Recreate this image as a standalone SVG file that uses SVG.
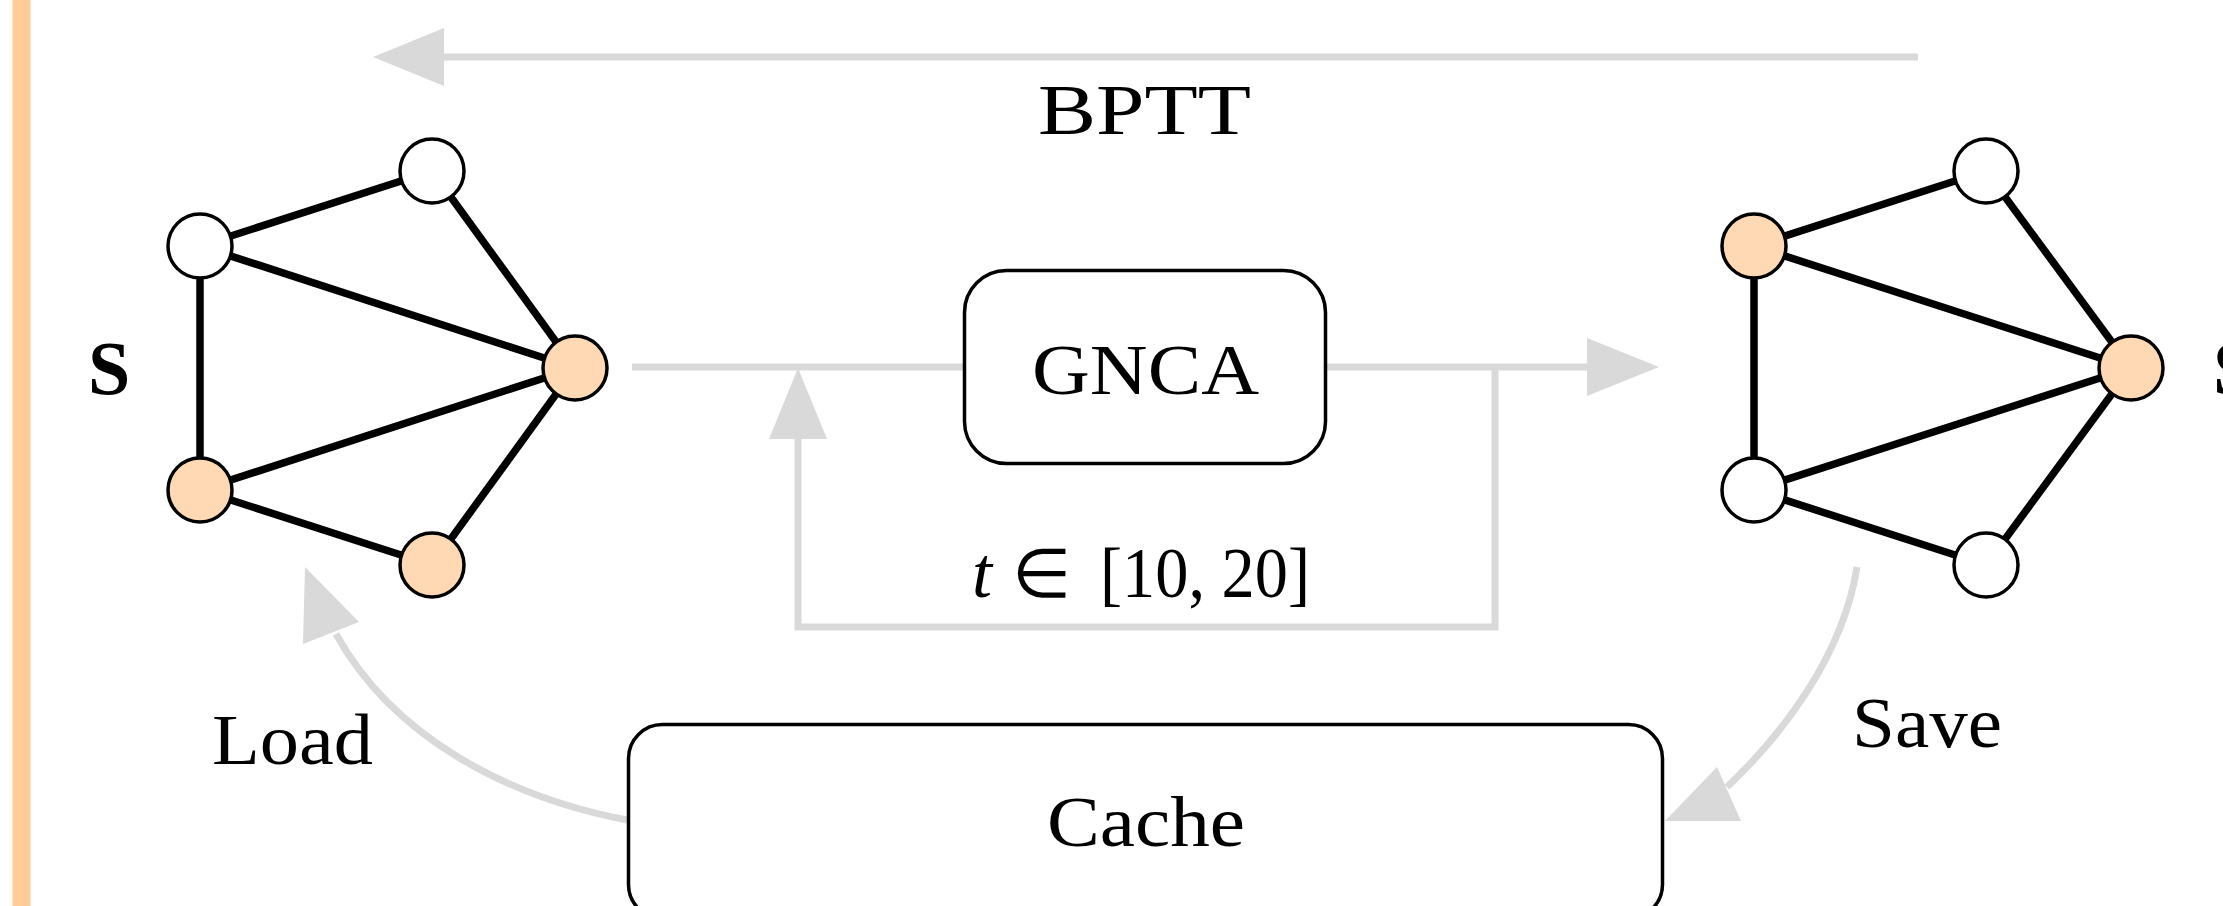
<svg xmlns="http://www.w3.org/2000/svg" width="2223" height="906" viewBox="0 0 2223 906">
  <style>
    .flow { fill: none; stroke: #d9d9d9; stroke-width: 7; }
    .head { fill: #d9d9d9; stroke: none; }
    .edge { stroke: #000; stroke-width: 7.5; stroke-linecap: butt; }
    .vert { stroke: #000; stroke-width: 3.5; }
    .off { fill: #ffffff; }
    .on { fill: #ffd9b3; }
    .box { fill: #ffffff; stroke: #000; stroke-width: 3.5; }
    .lbl { font-family: "Liberation Serif", "DejaVu Serif", serif; font-size: 72px; fill: #000; }
    .math { font-family: "DejaVu Sans", sans-serif; font-weight: 200; font-size: 68px; fill: #000; }
    .sym { font-family: "Liberation Serif", "DejaVu Serif", serif; font-size: 76px; font-weight: bold; fill: #000; }
  </style>

  <rect width="2223" height="906" fill="#ffffff"/>

  <!-- side bar -->
  <rect id="sidebar" x="12.5" y="0" width="18" height="906" fill="#ffcc99"/>

  <!-- connectors -->
  <g id="connectors">
    <!-- BPTT: backward pass along the top -->
    <line class="flow" x1="1918" y1="57" x2="440" y2="57"/>
    <polygon class="head" points="373,57 444,28 444,86"/>

    <!-- S to GNCA -->
    <line class="flow" x1="632" y1="367" x2="964" y2="367"/>
    <!-- GNCA to S' -->
    <line class="flow" x1="1327" y1="367" x2="1590" y2="367"/>
    <polygon class="head" points="1659,367 1587,338 1587,396"/>

    <!-- recurrence loop -->
    <polyline class="flow" points="1495,367 1495,627 798,627 798,436"/>
    <polygon class="head" points="798,368 769,439 827,439"/>

    <!-- Save: S' into cache -->
    <path class="flow" d="M1857,567 C1843,656 1782,735 1727,787"/>
    <polygon class="head" points="1665,821 1717,767 1741,821"/>

    <!-- Load: cache back to S -->
    <path class="flow" d="M627,820 C507,797 393,737 336,634"/>
    <polygon class="head" points="305,567 303,644 359,622"/>
  </g>

  <!-- input graph S -->
  <g id="graph-in">
    <g id="graph-in-edges">
      <line class="edge" x1="200" y1="246" x2="432" y2="171"/>
      <line class="edge" x1="200" y1="246" x2="575" y2="368"/>
      <line class="edge" x1="200" y1="246" x2="200" y2="490"/>
      <line class="edge" x1="200" y1="490" x2="575" y2="368"/>
      <line class="edge" x1="200" y1="490" x2="432" y2="565"/>
      <line class="edge" x1="432" y1="171" x2="575" y2="368"/>
      <line class="edge" x1="432" y1="565" x2="575" y2="368"/>
    </g>
    <g id="in-v1"><circle class="vert off" cx="200" cy="246" r="32"/></g>
    <g id="in-v2"><circle class="vert off" cx="432" cy="171" r="32"/></g>
    <g id="in-v3"><circle class="vert on" cx="575" cy="368" r="32"/></g>
    <g id="in-v4"><circle class="vert on" cx="200" cy="490" r="32"/></g>
    <g id="in-v5"><circle class="vert on" cx="432" cy="565" r="32"/></g>
  </g>
  <g id="label-s-in"><text class="sym" x="88" y="394">S</text></g>

  <!-- output graph -->
  <g id="graph-out">
    <g id="graph-out-edges">
      <line class="edge" x1="1754" y1="246" x2="1986" y2="171"/>
      <line class="edge" x1="1754" y1="246" x2="2131" y2="368"/>
      <line class="edge" x1="1754" y1="246" x2="1754" y2="490"/>
      <line class="edge" x1="1754" y1="490" x2="2131" y2="368"/>
      <line class="edge" x1="1754" y1="490" x2="1986" y2="565"/>
      <line class="edge" x1="1986" y1="171" x2="2131" y2="368"/>
      <line class="edge" x1="1986" y1="565" x2="2131" y2="368"/>
    </g>
    <g id="out-v1"><circle class="vert on" cx="1754" cy="246" r="32"/></g>
    <g id="out-v2"><circle class="vert off" cx="1986" cy="171" r="32"/></g>
    <g id="out-v3"><circle class="vert on" cx="2131" cy="368" r="32"/></g>
    <g id="out-v4"><circle class="vert off" cx="1754" cy="490" r="32"/></g>
    <g id="out-v5"><circle class="vert off" cx="1986" cy="565" r="32"/></g>
  </g>
  <g id="label-s-out"><text class="sym" x="2213" y="394">S</text></g>

  <!-- GNCA block -->
  <g id="gnca">
    <rect class="box" x="964.5" y="270.5" width="361" height="193" rx="42" ry="42"/>
    <text class="lbl" x="1032" y="394" textLength="227" lengthAdjust="spacingAndGlyphs">GNCA</text>
  </g>

  <!-- cache block -->
  <g id="cache">
    <rect class="box" x="628.5" y="724.5" width="1034" height="194" rx="34" ry="34"/>
    <text class="lbl" x="1047" y="846" textLength="198" lengthAdjust="spacingAndGlyphs">Cache</text>
  </g>

  <!-- edge labels -->
  <g id="labels">
    <text class="lbl" x="1038" y="134" textLength="213" lengthAdjust="spacingAndGlyphs">BPTT</text>
    <text class="lbl" x="212" y="764" textLength="161" lengthAdjust="spacingAndGlyphs">Load</text>
    <text class="lbl" x="1852" y="747" textLength="150" lengthAdjust="spacingAndGlyphs">Save</text>
    <text class="lbl" x="972" y="597" font-style="italic">t</text>
    <text class="math" x="1041" y="597" text-anchor="middle">∈</text>
    <text class="lbl" x="1100" y="597" textLength="210" lengthAdjust="spacingAndGlyphs">[10, 20]</text>
  </g>
</svg>
